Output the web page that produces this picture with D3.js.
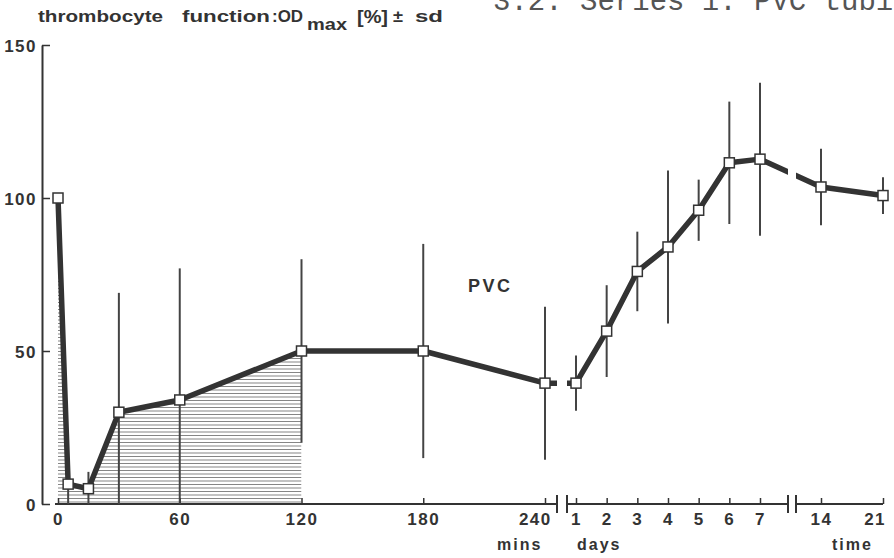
<!DOCTYPE html>
<html>
<head>
<meta charset="utf-8">
<script src="https://cdn.jsdelivr.net/npm/d3@7"></script>
<style>
  body { margin: 0; background: #fff; }
  svg { display: block; }
</style>
</head>
<body>
<div id="chart"></div>
<script>
// values
const minutes = [0, 5, 15, 30, 60, 120, 180, 240];
const minuteValues = [100, 6.5, 5, 30, 34, 50, 50, 39.5];
const minuteSd = [0, 8, 5.5, 39, 43, 30, 35, 25];

const days = [1, 2, 3, 4, 5, 6, 7];
const dayValues = [39.5, 56.5, 76, 84, 96, 111.5, 112.7];
const daySd = [9, 15, 13, 25, 10, 20, 25];

const laterDays = [14, 21];
const laterValues = [103.6, 100.8];
const laterSd = [12.5, 6];

const minuteTicks = [0, 60, 120, 180, 240];
const dayTicks = [1, 2, 3, 4, 5, 6, 7];
const laterTicks = [14, 21];
const yTicks = [0, 50, 100, 150];
const hatchUntil = 120;

const width = 894;
const height = 558;
const inkColor = '#333333';
const barColor = '#444444';
const hatchColor = '#858585';
const fontSans = '"Liberation Sans", Arial, sans-serif';
const fontMono = '"Liberation Mono", "Courier New", monospace';

const svg = d3.select('#chart')
  .append('svg')
  .attr('width', width)
  .attr('height', height);

const yScale = d3.scaleLinear().domain([0, 150]).range([504, 45]);
const xMin = d3.scaleLinear().domain([0, 240]).range([58, 545]);
const xDay = d3.scaleLinear().domain([1, 7]).range([576, 760]);
const xLate = d3.scaleLinear().domain([14, 21]).range([821, 883]);

// axis breaks (pixel gaps between the three time segments)
const breaks = [[557, 567], [788, 796]];

function toPoints(xs, values, sds, scale) {
  return xs.map((t, i) => ({t, x: scale(t), value: values[i], sd: sds[i]}));
}

const minutePoints = toPoints(minutes, minuteValues, minuteSd, xMin);
const points = minutePoints
  .concat(toPoints(days, dayValues, daySd, xDay))
  .concat(toPoints(laterDays, laterValues, laterSd, xLate));

function renderTitles() {
  const parts = [
    {text: 'thrombocyte', x: 38, y: 22, len: 125, size: 17},
    {text: 'function', x: 182, y: 22, len: 88, size: 17},
    {text: ':OD', x: 272, y: 22, len: 31, size: 17},
    {text: 'max', x: 307, y: 30, len: 40, size: 17},
    {text: '[%]', x: 357, y: 23, len: 31, size: 19},
    {text: '±', x: 393, y: 22, len: 10, size: 17},
    {text: 'sd', x: 415, y: 22, len: 28, size: 17}
  ];
  parts.forEach(p => {
    svg.append('text')
      .attr('x', p.x)
      .attr('y', p.y)
      .attr('textLength', p.len)
      .attr('lengthAdjust', 'spacingAndGlyphs')
      .style('font-family', fontSans)
      .style('font-weight', 'bold')
      .style('font-size', p.size + 'px')
      .style('fill', inkColor)
      .text(p.text);
  });

  svg.append('text')
    .attr('x', 493)
    .attr('y', 10)
    .style('font-family', fontMono)
    .style('font-size', '29px')
    .style('fill', '#555')
    .text('3.2. Series 1: PVC tubing');

  svg.append('text')
    .attr('x', 468)
    .attr('y', 292)
    .attr('textLength', 42)
    .style('font-family', fontSans)
    .style('font-weight', 'bold')
    .style('font-size', '18px')
    .style('fill', inkColor)
    .text('PVC');
}

function styleTickText(g, size) {
  g.selectAll('text')
    .style('font-family', fontSans)
    .style('font-weight', 'bold')
    .style('font-size', size + 'px')
    .style('letter-spacing', '1.5px')
    .style('fill', inkColor);
  g.selectAll('line').attr('stroke', inkColor).attr('stroke-width', 1.5);
}

function renderAxis() {
  const yAxis = svg.append('g')
    .attr('transform', 'translate(42,0)')
    .call(d3.axisLeft(yScale).tickValues(yTicks).tickSize(-8).tickSizeOuter(0).tickPadding(5));
  yAxis.select('.domain').attr('stroke', inkColor).attr('stroke-width', 2);
  styleTickText(yAxis, 17);
  yAxis.selectAll('text').attr('dy', '0.36em');

  const axisY = yScale(0);
  [[xMin, minuteTicks], [xDay, dayTicks], [xLate, laterTicks]].forEach(([scale, ticks]) => {
    const g = svg.append('g')
      .attr('transform', `translate(0,${axisY})`)
      .call(d3.axisBottom(scale).tickValues(ticks).tickFormat(d3.format('d')).tickSize(-6).tickPadding(9));
    g.select('.domain').remove();
    styleTickText(g, 17);
  });

  // nudge the labels that sit next to a break or the edge
  svg.selectAll('g.tick text')
    .filter(d => d === 240)
    .attr('dx', '-0.6em');
  svg.selectAll('g.tick text')
    .filter(d => d === 21)
    .attr('text-anchor', 'end')
    .attr('dx', '0.15em');

  const segments = [
    [55, breaks[0][0]],
    [breaks[0][1], breaks[1][0]],
    [breaks[1][1], xLate(21)]
  ];
  svg.append('g')
    .selectAll('line')
    .data(segments)
    .join('line')
    .attr('x1', d => d[0])
    .attr('x2', d => d[1])
    .attr('y1', axisY)
    .attr('y2', axisY)
    .attr('stroke', inkColor)
    .attr('stroke-width', 2);

  svg.append('g')
    .selectAll('line')
    .data(breaks.flat())
    .join('line')
    .attr('x1', d => d)
    .attr('x2', d => d)
    .attr('y1', axisY - 9)
    .attr('y2', axisY + 9)
    .attr('stroke', inkColor)
    .attr('stroke-width', 2);

  const units = [
    {text: 'mins', x: 497},
    {text: 'days', x: 577},
    {text: 'time', x: 832}
  ];
  svg.append('g')
    .selectAll('text')
    .data(units)
    .join('text')
    .attr('x', d => d.x)
    .attr('y', 550)
    .style('font-family', fontSans)
    .style('font-weight', 'bold')
    .style('font-size', '16px')
    .style('letter-spacing', '2px')
    .style('fill', inkColor)
    .text(d => d.text);
}

function renderHatch() {
  const hatchPoints = minutePoints.filter(d => d.t <= hatchUntil);
  const area = d3.area()
    .x(d => d.x)
    .y0(yScale(0))
    .y1(d => yScale(d.value));

  svg.append('defs')
    .append('clipPath')
    .attr('id', 'hatch-clip')
    .append('path')
    .datum(hatchPoints)
    .attr('d', area);

  const rows = d3.range(yScale(0) - 2, yScale(100), -3.5);
  svg.append('g')
    .attr('clip-path', 'url(#hatch-clip)')
    .selectAll('line')
    .data(rows)
    .join('line')
    .attr('x1', xMin(0))
    .attr('x2', xMin(hatchUntil))
    .attr('y1', d => d)
    .attr('y2', d => d)
    .attr('stroke', hatchColor)
    .attr('stroke-width', 1);
}

function renderErrorBars() {
  svg.append('g')
    .selectAll('line')
    .data(points.filter(d => d.sd > 0))
    .join('line')
    .attr('x1', d => d.x)
    .attr('x2', d => d.x)
    .attr('y1', d => yScale(d.value + d.sd))
    .attr('y2', d => yScale(Math.max(0, d.value - d.sd)))
    .attr('stroke', barColor)
    .attr('stroke-width', 2);
}

function renderLine() {
  const defs = svg.append('defs');
  const clip = defs.append('clipPath').attr('id', 'line-clip');
  const spans = [
    [0, breaks[0][0]],
    [breaks[0][1], breaks[1][0]],
    [breaks[1][1], width]
  ];
  spans.forEach(s => {
    clip.append('rect')
      .attr('x', s[0])
      .attr('y', 0)
      .attr('width', s[1] - s[0])
      .attr('height', height);
  });

  const line = d3.line()
    .x(d => d.x)
    .y(d => yScale(d.value));

  svg.append('path')
    .datum(points)
    .attr('clip-path', 'url(#line-clip)')
    .attr('fill', 'none')
    .attr('stroke', inkColor)
    .attr('stroke-width', 5.5)
    .attr('stroke-linejoin', 'round')
    .attr('d', line);

  const size = 10;
  svg.append('g')
    .selectAll('rect')
    .data(points)
    .join('rect')
    .attr('x', d => d.x - size / 2)
    .attr('y', d => yScale(d.value) - size / 2)
    .attr('width', size)
    .attr('height', size)
    .attr('fill', '#fff')
    .attr('stroke', inkColor)
    .attr('stroke-width', 1.5);
}

renderTitles();
renderHatch();
renderAxis();
renderErrorBars();
renderLine();
</script>
</body>
</html>
